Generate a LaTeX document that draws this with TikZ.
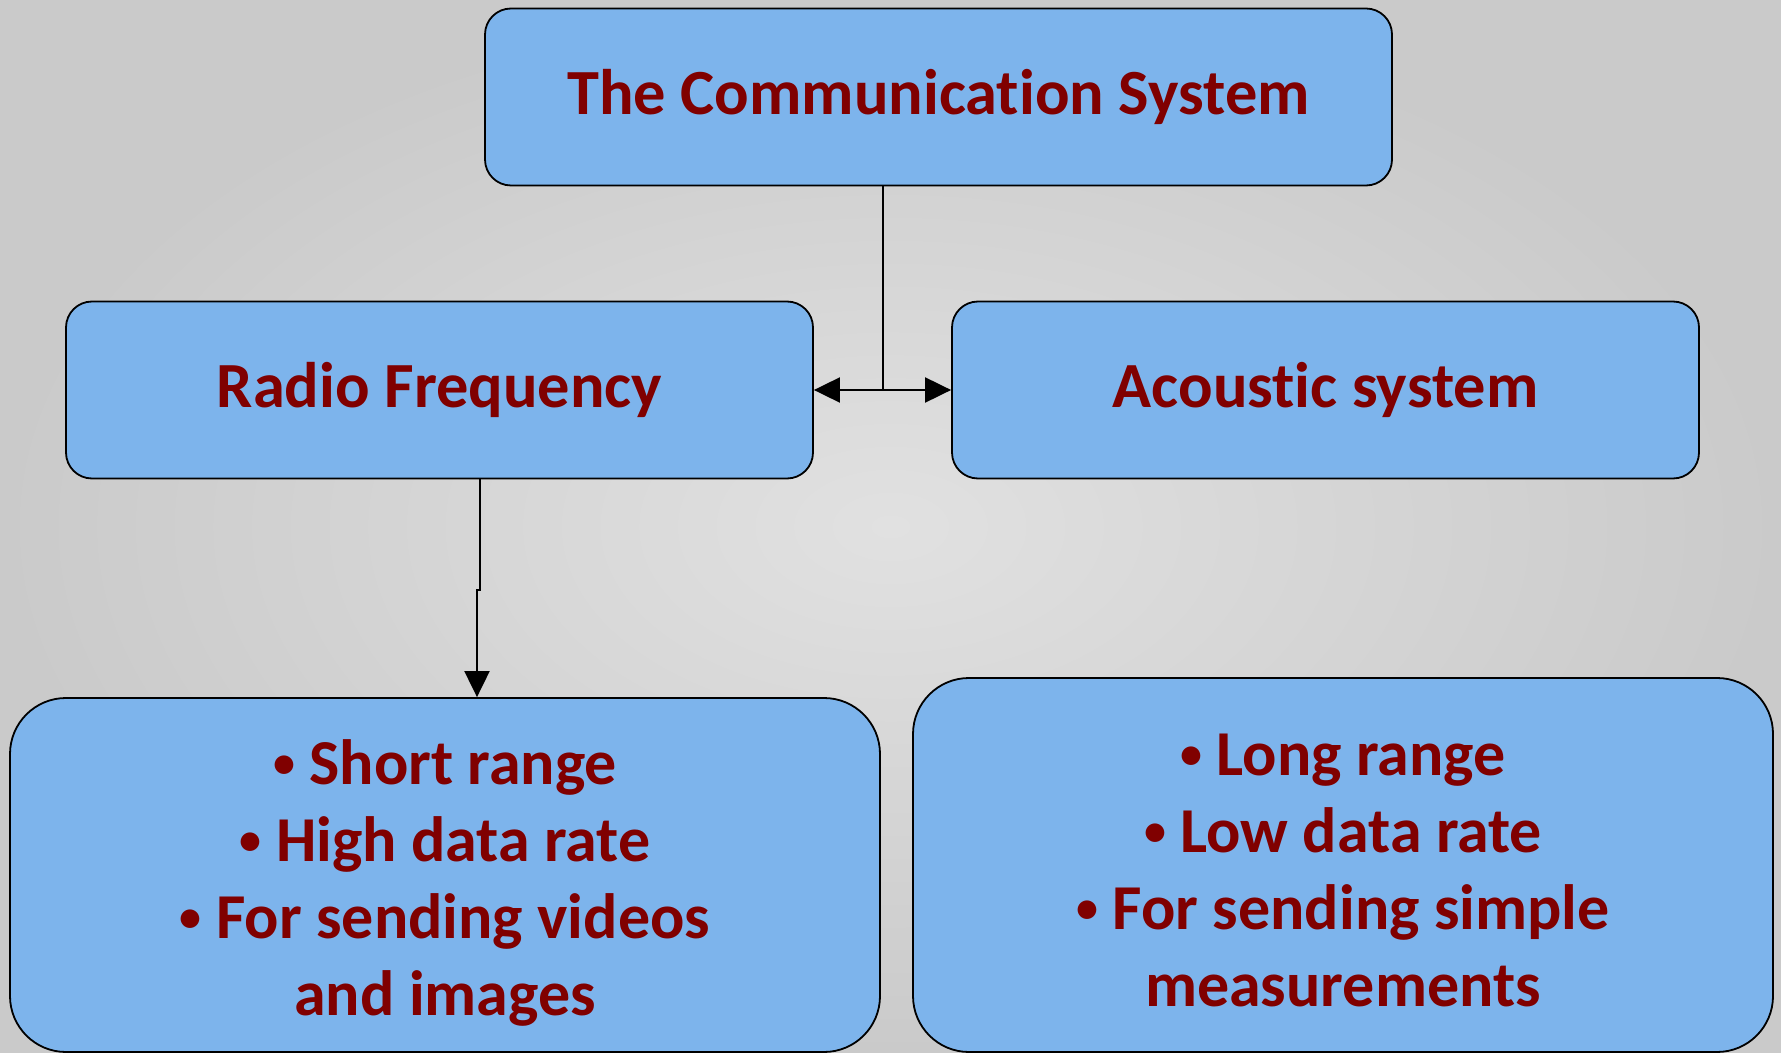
\documentclass[tikz,border=0pt]{standalone}
\usepackage{fontspec}
\setmainfont{Carlito}[Ligatures=NoCommon]
\usetikzlibrary{arrows.meta, positioning, calc}
\definecolor{box fill}{RGB}{125,180,236}
\definecolor{label red}{RGB}{128,0,0}
\definecolor{bg inner}{RGB}{225,225,225}
\definecolor{bg outer}{RGB}{202,202,202}
\newcommand{\bul}{{\fontsize{22}{22}\selectfont\raisebox{3.5pt}{•}}\ }
\tikzset{
  block/.style={draw=black, fill=box fill, line width=0.9pt, rounded corners=13pt,
    text=label red, align=center, font=\fontsize{32.2}{36}\selectfont\bfseries},
  listblock/.style={block, rounded corners=28pt, font=\fontsize{32}{38.5}\selectfont\bfseries},
  edge/.style={draw, line width=1pt},
  arrowline/.style={edge, -{Triangle[length=13pt, width=12.5pt]}}
}

\begin{document}
\begin{tikzpicture}[x=0.5pt, y=-0.5pt]
    \clip (0,0) rectangle (1781,1053);
    \shade[inner color=bg inner, outer color=bg outer] (0,0) rectangle (1781,1053);

    \node[block, minimum width=453.5pt, minimum height=88.5pt] (top) at (938.5,97) {The Communication System};
    \node[block, minimum width=373.5pt, minimum height=88.5pt] (radio) at (439.5,390) {Radio Frequency};
    \node[block, minimum width=373.5pt, minimum height=88.5pt] (acoustic) at (1325.5,390) {Acoustic system};
    \node[listblock, minimum width=435pt, minimum height=177pt] (rfbox) at (445,875)
        {\rule{0pt}{30pt}\bul Short range\\\bul High data rate\\\bul For sending videos\\and images};
    \node[listblock, minimum width=430pt, minimum height=187pt] (acbox) at (1343,865)
        {\rule{0pt}{26pt}\bul Long range\\\bul Low data rate\\\bul For sending simple\\measurements};

    % split between the two middle boxes
    \coordinate (split) at ($(radio.east)!0.5!(acoustic.west)$);
    \path[edge] (top.south -| split) -- (split);
    \path[arrowline] (split) -- (radio.east);
    \path[arrowline] (split) -- (acoustic.west);

    \path[arrowline] ($(radio.south)+(40.5,0)$) -- ++(0,111) -- ++(-3,0) coordinate (jog) -- (jog |- rfbox.north);
\end{tikzpicture}
\end{document}
